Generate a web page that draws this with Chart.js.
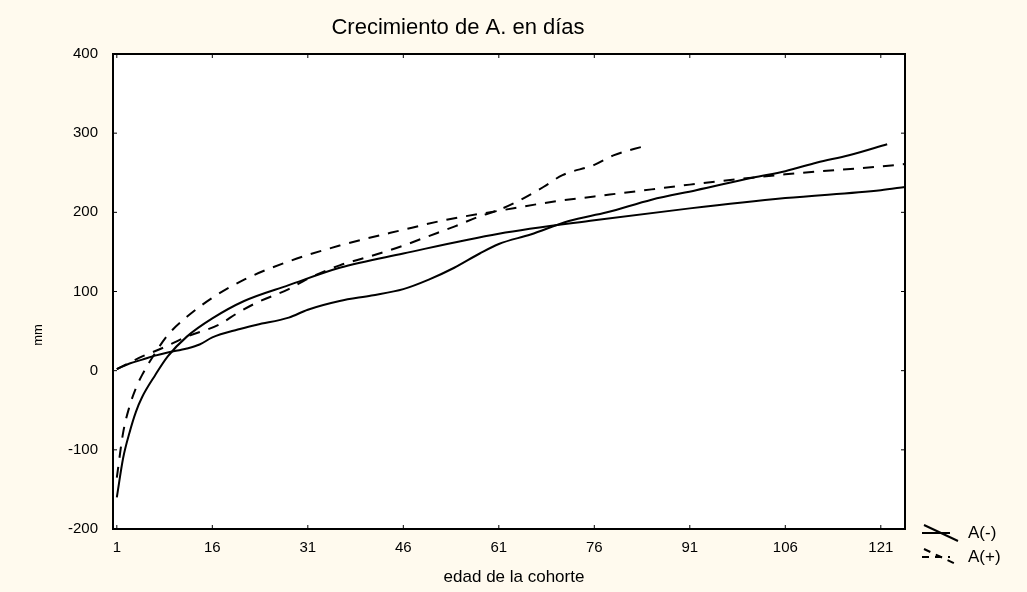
<!DOCTYPE html>
<html>
<head>
<meta charset="utf-8">
<script src="https://cdn.jsdelivr.net/npm/chart.js@4/dist/chart.umd.min.js"></script>
<style>
  html, body { margin:0; padding:0; background:#fffaee; }
  #wrap { width:1027px; height:592px; position:relative; }
</style>
</head>
<body>
<div id="wrap"><canvas id="chart" width="1027" height="592"></canvas></div>
<script>
// ── Datos ────────────────────────────────────────────────────────────
const xTicks = [1, 16, 31, 46, 61, 76, 91, 106, 121];
const yTicks = [-200, -100, 0, 100, 200, 300, 400];

// A(-) ajuste (línea continua, curva logarítmica)
const fitMinusX = [1, 2, 3, 4, 5, 7, 9, 12, 16, 21, 28, 36, 46, 61, 76, 91, 106, 121, 124.8];
const fitMinusY = [-160, -110, -78, -52, -33, -6, 18, 43, 66, 88, 108, 130, 148, 173, 190, 205, 218, 228, 232];

// A(+) ajuste (línea discontinua)
const fitPlusX = [1, 2, 3, 4, 5, 7, 9, 12, 16, 21, 28, 36, 46, 53, 61, 70, 76, 85, 91, 106, 121, 124.8];
const fitPlusY = [-135, -78, -45, -22, -5, 22, 45, 68, 92, 115, 138, 158, 178, 191, 202, 214, 220, 229, 235, 248, 258, 261];

// A(-) observado (línea continua)
const obsMinusX = [1, 3, 5, 7, 9, 12, 14, 16, 20, 23, 28, 31, 36, 41, 46, 50, 54, 58, 61, 66, 72, 78, 85, 92, 101, 106, 111, 116, 122];
const obsMinusY = [2, 9, 14, 19, 23, 28, 33, 42, 52, 58, 67, 77, 88, 95, 103, 115, 130, 148, 160, 172, 189, 200, 216, 228, 244, 252, 263, 272, 286];

// A(+) observado (línea discontinua)
const obsPlusX = [1, 3, 5, 8, 12, 17, 20, 23, 28, 31, 36, 41, 46, 50, 54, 58, 61, 64, 68, 71, 76, 79, 84];
const obsPlusY = [2, 10, 18, 28, 43, 58, 73, 86, 103, 116, 133, 145, 158, 170, 182, 195, 203, 214, 232, 247, 260, 272, 284];

const TITLE = 'Crecimiento de A. en días';
const XLABEL = 'edad de la cohorte';
const YLABEL = 'mm';

const pts = (xs, ys) => xs.map((x, i) => ({ x, y: ys[i] }));
const DASH = [11, 9];

function serie(label, xs, ys, dashed) {
  return {
    label, data: pts(xs, ys),
    borderColor: '#000', borderWidth: 2, borderDash: dashed ? DASH : [],
    pointRadius: 0, fill: false, cubicInterpolationMode: 'monotone',
  };
}

// Fondo crema, marco y textos al estilo Statistica
const decor = {
  id: 'decor',
  beforeDraw(chart) {
    const { ctx, chartArea: a } = chart;
    ctx.save();
    ctx.fillStyle = '#fffaee';
    ctx.fillRect(0, 0, chart.width, chart.height);
    ctx.fillStyle = '#ffffff';
    ctx.fillRect(a.left, a.top, a.right - a.left, a.bottom - a.top);
    ctx.restore();
  },
  afterDraw(chart) {
    const { ctx, chartArea: a, scales } = chart;
    ctx.save();
    // marco
    ctx.strokeStyle = '#000';
    ctx.lineWidth = 2;
    ctx.strokeRect(a.left, a.top, a.right - a.left, a.bottom - a.top);
    // marcas interiores
    ctx.lineWidth = 1;
    ctx.beginPath();
    xTicks.forEach(v => {
      const px = scales.x.getPixelForValue(v);
      ctx.moveTo(px, a.bottom); ctx.lineTo(px, a.bottom - 4);
      ctx.moveTo(px, a.top); ctx.lineTo(px, a.top + 4);
    });
    yTicks.forEach(v => {
      const py = scales.y.getPixelForValue(v);
      ctx.moveTo(a.left, py); ctx.lineTo(a.left + 4, py);
      ctx.moveTo(a.right, py); ctx.lineTo(a.right - 4, py);
    });
    ctx.stroke();

    // textos
    ctx.fillStyle = '#000';
    ctx.textBaseline = 'middle';
    ctx.textAlign = 'center';
    ctx.font = '22px "Liberation Sans", Arial, sans-serif';
    ctx.fillText(TITLE, 458, 28, 280);
    ctx.font = '17px "Liberation Sans", Arial, sans-serif';
    ctx.fillText(XLABEL, 514, 577, 142);
    ctx.save();
    ctx.translate(38, 335);
    ctx.rotate(-Math.PI / 2);
    ctx.font = '13px "Liberation Sans", Arial, sans-serif';
    ctx.fillText(YLABEL, 0, 0);
    ctx.restore();

    // leyenda
    ctx.lineWidth = 2;
    ctx.beginPath();
    ctx.moveTo(922, 533); ctx.lineTo(950, 533);
    ctx.moveTo(924, 525); ctx.lineTo(958, 541);
    ctx.stroke();
    ctx.setLineDash([7, 6]);
    ctx.beginPath();
    ctx.moveTo(922, 557); ctx.lineTo(950, 557);
    ctx.moveTo(924, 549); ctx.lineTo(958, 565);
    ctx.stroke();
    ctx.setLineDash([]);
    ctx.textAlign = 'left';
    ctx.font = '17px "Liberation Sans", Arial, sans-serif';
    ctx.fillText('A(-)', 968, 533, 48);
    ctx.fillText('A(+)', 968, 557, 60);
    ctx.restore();
  },
};

new Chart(document.getElementById('chart'), {
  type: 'line',
  data: {
    datasets: [
      serie('A(-) ajuste', fitMinusX, fitMinusY, false),
      serie('A(+) ajuste', fitPlusX, fitPlusY, true),
      serie('A(-)', obsMinusX, obsMinusY, false),
      serie('A(+)', obsPlusX, obsPlusY, true),
    ],
  },
  options: {
    responsive: false, animation: false,
    layout: { padding: { top: 54, right: 122, left: 0, bottom: 0 } },
    plugins: { legend: { display: false }, tooltip: { enabled: false } },
    scales: {
      x: {
        type: 'linear', min: 0.4, max: 124.8,
        afterBuildTicks: s => { s.ticks = xTicks.map(v => ({ value: v })); },
        afterFit: s => { s.height = 63; },
        grid: { display: false, drawTicks: false },
        border: { display: false },
        ticks: { color: '#000', padding: 10, maxRotation: 0, autoSkip: false,
                 font: { family: '"Liberation Sans", Arial, sans-serif', size: 15 } },
      },
      y: {
        min: -200, max: 400,
        afterBuildTicks: s => { s.ticks = yTicks.map(v => ({ value: v })); },
        afterFit: s => { s.width = 113; },
        grid: { display: false, drawTicks: false },
        border: { display: false },
        ticks: { color: '#000', padding: 15,
                 font: { family: '"Liberation Sans", Arial, sans-serif', size: 15 } },
      },
    },
  },
  plugins: [decor],
});
</script>
</body>
</html>
